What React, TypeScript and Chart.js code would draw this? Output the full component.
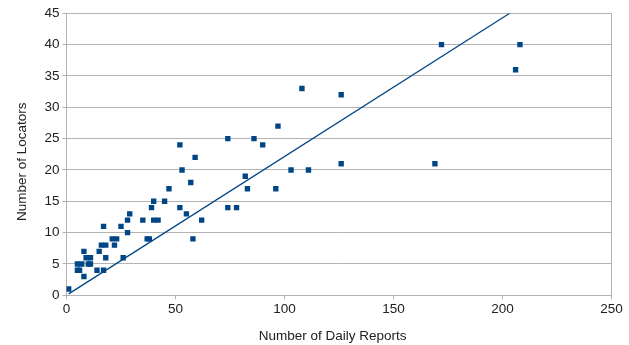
import React, { useEffect, useRef } from "react";
import { Chart, registerables } from "chart.js";

Chart.register(...registerables);

const dailyReports = [
  1, 5, 6, 5, 7, 8, 8, 9, 11, 10, 11, 14, 17, 15, 16, 18, 17, 18, 21, 22, 23,
  26, 25, 28, 28, 29, 35, 37, 38, 39, 40, 40, 42, 45, 47, 52, 55, 57, 58, 52,
  53, 59, 62, 74, 74, 78, 82, 83, 86, 90, 96, 97, 103, 108, 111, 126, 126, 169,
  172, 206, 208,
];
const locators = [
  1, 4, 4, 5, 5, 3, 7, 6, 6, 5, 5, 4, 4, 7, 8, 8, 11, 6, 9, 8, 9,
  6, 11, 10, 12, 13, 12, 9, 9, 14, 15, 12, 12, 15, 17, 14, 13, 18, 9, 24,
  20, 22, 12, 25, 14, 14, 19, 17, 25, 24, 17, 27, 20, 33, 20, 32, 21, 21,
  40, 36, 40,
];
const trendX = [1, 203.3];
const trendY = [0.22, 45];

const xTicks = [0, 50, 100, 150, 200, 250];
const yTicks = [0, 5, 10, 15, 20, 25, 30, 35, 40, 45];

const xTitle = "Number of Daily Reports";
const yTitle = "Number of Locators";

const BLUE = "#004586";
const GRID = "#b3b3b3";
const TEXT = "#222";
const FONT = "'Liberation Sans', Arial, sans-serif";
const FSIZE = 13.5;

const titlePlugin = {
  id: "axisTitles",
  afterDraw(chart: any) {
    const ctx = chart.ctx;
    ctx.save();
    ctx.fillStyle = TEXT;
    ctx.font = `${FSIZE}px ${FONT}`;
    ctx.textAlign = "center";
    ctx.textBaseline = "alphabetic";
    ctx.fillText(xTitle, 332.6, 340);
    ctx.translate(26, 161.7);
    ctx.rotate(-Math.PI / 2);
    ctx.fillText(yTitle, 0, 0);
    ctx.restore();
  },
};

export default function App() {
  const ref = useRef<HTMLCanvasElement | null>(null);

  useEffect(() => {
    if (!ref.current) return;
    const pts = dailyReports.map((x, i) => ({ x, y: locators[i] }));
    const trend = trendX.map((x, i) => ({ x, y: trendY[i] }));
    const chart = new Chart(ref.current, {
      type: "scatter",
      data: {
        datasets: [
          {
            type: "line",
            data: trend,
            borderColor: BLUE,
            borderWidth: 1.3,
            pointRadius: 0,
            fill: false,
            order: 2,
          } as any,
          {
            data: pts,
            backgroundColor: BLUE,
            borderColor: BLUE,
            borderWidth: 0,
            pointStyle: "rect",
            pointRadius: 3.8,
            order: 1,
          },
        ],
      },
      plugins: [titlePlugin],
      options: {
        responsive: false,
        animation: false,
        layout: { padding: { top: 13.3, right: 17.5, left: 0, bottom: 0 } },
        plugins: { legend: { display: false }, tooltip: { enabled: false } },
        scales: {
          x: {
            type: "linear",
            min: 0,
            max: 250,
            afterBuildTicks: (s: any) => {
              s.ticks = xTicks.map((v) => ({ value: v }));
            },
            afterFit: (s: any) => {
              s.height = 49.7;
            },
            grid: {
              color: (c: any) => (c.tick && c.tick.value === 250 ? GRID : "rgba(0,0,0,0)"),
              tickColor: GRID,
              tickLength: 4,
              drawTicks: true,
            },
            border: { color: GRID, width: 1 },
            ticks: {
              color: TEXT,
              font: { family: FONT, size: FSIZE },
              padding: 2,
              maxRotation: 0,
            },
          },
          y: {
            type: "linear",
            min: 0,
            max: 45,
            afterBuildTicks: (s: any) => {
              s.ticks = yTicks.map((v) => ({ value: v }));
            },
            afterFit: (s: any) => {
              s.width = 66.5;
            },
            grid: {
              color: GRID,
              tickColor: GRID,
              tickLength: 4,
            },
            border: { color: GRID, width: 1 },
            ticks: {
              color: TEXT,
              font: { family: FONT, size: FSIZE },
              padding: 3,
            },
          },
        },
      },
    });
    return () => chart.destroy();
  }, []);

  return (
    <div style={{ position: "absolute", left: 0, top: 0, width: 629, height: 345, background: "#fff" }}>
      <canvas ref={ref} width={629} height={345} style={{ display: "block" }} />
    </div>
  );
}
